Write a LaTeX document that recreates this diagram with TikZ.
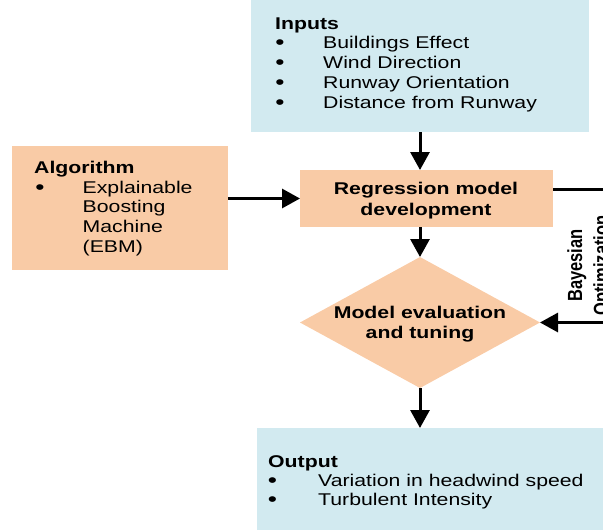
\documentclass[tikz,border=0pt]{standalone}
\usepackage{fontspec}
\setmainfont{Liberation Sans}[FakeStretch=1.25]
\newfontfamily\rotfont{Liberation Sans}
\usetikzlibrary{shapes.geometric,arrows.meta}
\definecolor{lblue}{HTML}{D2EAF0}
\definecolor{peach}{HTML}{F9CBA6}
\begin{document}
\begin{tikzpicture}[x=1pt,y=-1pt,
  shapebox/.style={draw=none,inner sep=0pt,outer sep=0pt},
  conn/.style={line width=3pt,-{Triangle[length=18pt,width=19pt]}},
  plain/.style={line width=3pt},
  txt/.style={inner sep=0pt,anchor=base west,font=\fontsize{17}{20}\selectfont},
  ttl/.style={inner sep=0pt,anchor=base west,font=\fontsize{17}{20}\selectfont\bfseries},
  bul/.style={inner sep=0pt,anchor=base,font=\fontsize{21}{20}\selectfont},
  btxt/.style={inner sep=0pt,anchor=base,font=\fontsize{17}{21}\selectfont\bfseries}]
\useasboundingbox (0,0) rectangle (603,530);
\clip (0,0) rectangle (603,530);
% shapes
\node[shapebox,fill=lblue,minimum width=338pt,minimum height=132pt] (inp) at (420,66) {};
\node[shapebox,fill=peach,minimum width=216pt,minimum height=124pt] (alg) at (120,208) {};
\node[shapebox,fill=peach,minimum width=253pt,minimum height=57pt] (reg) at (426.5,198.5) {};
\node[shapebox,fill=peach,shape=diamond,minimum width=240pt,minimum height=131pt] (dia) at (420,322.5) {};
\node[shapebox,fill=lblue,minimum width=363pt,minimum height=112pt] (out) at (438.5,484) {};
\coordinate (fbtop) at (625,189);
\coordinate (fbbot) at (625,322.5);
% inputs text
\node[ttl] (inpt) at (275,29) {Inputs};
\node[bul] (ib1) at (280,49) {•};
\node[bul] (ib2) at (280,69) {•};
\node[bul] (ib3) at (280,89) {•};
\node[bul] (ib4) at (280,109) {•};
\node[txt] (i1) at (323,48) {Buildings Effect};
\node[txt] (i2) at (323,68) {Wind Direction};
\node[txt] (i3) at (323,88) {Runway Orientation};
\node[txt] (i4) at (323,108) {Distance from Runway};
% algorithm text
\node[ttl] (algt) at (34,173) {Algorithm};
\node[bul] (ab1) at (40,194) {•};
\node[txt] (a1) at (82.5,193) {Explainable};
\node[txt] (a2) at (82.5,212.5) {Boosting};
\node[txt] (a3) at (82.5,232) {Machine};
\node[txt] (a4) at (82.5,252) {(EBM)};
% regression text
\node[btxt] (r1) at (426,194) {Regression model};
\node[btxt] (r2) at (426,215) {development};
% diamond text
\node[btxt] (d1) at (420,318.3) {Model evaluation};
\node[btxt] (d2) at (420,338.7) {and tuning};
% output text
\node[ttl] (outt) at (268,467) {Output};
\node[bul] (ob1) at (272.5,487) {•};
\node[bul] (ob2) at (272.5,506) {•};
\node[txt] (o1) at (318,486) {Variation in headwind speed};
\node[txt] (o2) at (318,505) {Turbulent Intensity};
% Bayesian optimization label
\node[inner sep=0pt] (bo) at (590,265.5) {\scalebox{1.24}[1]{\rotatebox{90}{\rotfont\bfseries\fontsize{16.5}{21}\selectfont\begin{tabular}{@{}c@{}}Bayesian\\Optimization\end{tabular}}}};
% connectors
\draw[conn] (inp.south -| dia.north) -- (reg.north -| dia.north);
\draw[conn] (alg.east |- reg.west) -- (reg.west);
\draw[conn] (reg.south -| dia.north) -- (dia.north);
\draw[conn] (dia.south) -- (out.north -| dia.south);
\draw[plain] ([yshift=9.5pt]reg.east) -- (fbtop) -- (fbbot);
\draw[conn] (fbbot) -- (dia.east);
\end{tikzpicture}
\end{document}
